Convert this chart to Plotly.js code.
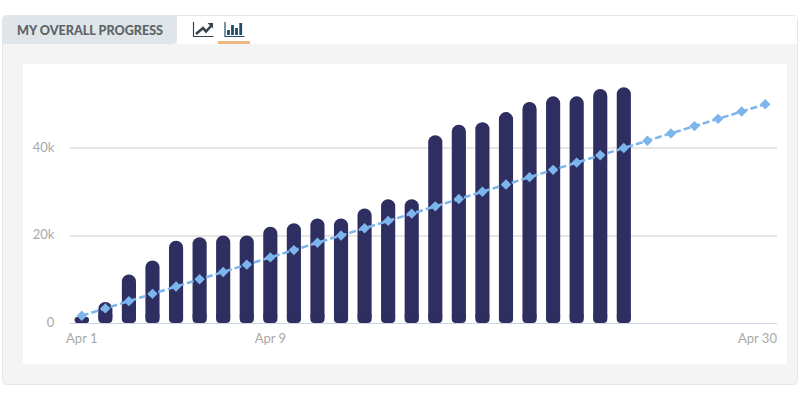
<!DOCTYPE html>
<html><head><meta charset="utf-8">
<script src="https://cdn.plot.ly/plotly-3.0.1.min.js"></script>
<style>
html,body{margin:0;padding:0;background:#fff;width:800px;height:400px;overflow:hidden}
#panel{position:absolute;left:2px;top:15px;width:796px;height:370px;box-sizing:border-box;background:#f4f4f4;border:1px solid #e4e6e8;border-radius:5px}
#white{position:absolute;left:23px;top:64px;width:764px;height:300px;background:#fff}
#tab{position:absolute;left:2px;top:15px;width:175px;height:29px;background:#dfe5e8;border-radius:5px 0 5px 0;font:900 12.6px Lato,sans-serif;color:#5d6367;line-height:31px;box-sizing:border-box;padding-left:15px}
#top{position:absolute;left:177px;top:16px;width:620px;height:28px;background:#fff}
#icons{position:absolute;left:190px;top:18px}
#chart{position:absolute;left:0;top:0;width:800px;height:400px}
</style></head><body>
<div id="panel"></div><div id="white"></div><div id="top"></div><div id="tab">MY OVERALL PROGRESS</div>
<svg id="icons" width="70" height="28" viewBox="0 0 70 28">
<path d="M3.5 4V18.5H23.5" fill="none" stroke="#39434b" stroke-width="1.2"/>
<path d="M6 16L13 10L16 13.5L21 8" fill="none" stroke="#39434b" stroke-width="2.6"/>
<path d="M17.5 5H23V10.5Z" fill="#39434b"/>
<path d="M35 4V18.5H54.5" fill="none" stroke="#1f4f70" stroke-width="1.2"/>
<path d="M38.5 12V17M42.5 7V17M46.5 10V17M50.7 5V17" fill="none" stroke="#234c69" stroke-width="2.8"/>
<rect x="28" y="23" width="32" height="3" fill="#ecb984"/>
</svg>
<div id="chart"></div>
<script>
var categories = ["Apr 1","Apr 2","Apr 3","Apr 4","Apr 5","Apr 6","Apr 7","Apr 8","Apr 9","Apr 10","Apr 11","Apr 12","Apr 13","Apr 14","Apr 15","Apr 16","Apr 17","Apr 18","Apr 19","Apr 20","Apr 21","Apr 22","Apr 23","Apr 24","Apr 25","Apr 26","Apr 27","Apr 28","Apr 29","Apr 30"];
var actual = [1400,4800,11100,14300,18800,19600,20000,20000,22000,22800,23900,23900,26200,28300,28300,42900,45300,45900,48200,50500,51800,51800,53500,53900];
var target = [1667,3333,5000,6667,8333,10000,11667,13333,15000,16667,18333,20000,21667,23333,25000,26667,28333,30000,31667,33333,35000,36667,38333,40000,41667,43333,45000,46667,48333,50000];
var yTickVals = [0,20000,40000];
var yTickText = ["0","20k","40k"];
var xTickVals = ["Apr 1","Apr 9"];
var lastLabel = "Apr 30";
var footHeight = 2500;
var tickFont = {family:"Lato, sans-serif",size:13,color:"#a9a9a9"};
var barCats = categories.slice(0,actual.length);
var zeroBase = actual.map(function(){return 0;});
var foot = actual.map(function(v){return Math.min(v,footHeight);});
Plotly.newPlot("chart",[
 {type:"bar",x:barCats,base:zeroBase,y:actual,width:0.6,marker:{color:"#2e2e61",cornerradius:7,line:{width:0}},hoverinfo:"skip"},
 {type:"bar",x:barCats,base:zeroBase,y:foot,width:0.6,marker:{color:"#2e2e61",cornerradius:4,line:{width:0}},hoverinfo:"skip"},
 {type:"scatter",mode:"lines+markers",x:categories,y:target,line:{color:"#7cb5ec",width:2.5,dash:"7px,3px"},marker:{symbol:"diamond",size:8,color:"#7cb5ec"},hoverinfo:"skip"}
],{
 width:800,height:400,showlegend:false,barmode:"overlay",
 paper_bgcolor:"rgba(0,0,0,0)",plot_bgcolor:"rgba(0,0,0,0)",
 margin:{l:70,r:23,t:64,b:77,pad:0},
 xaxis:{type:"category",categoryorder:"array",categoryarray:categories,range:[-0.5,29.5],tickmode:"array",tickvals:xTickVals,ticktext:xTickVals,tickfont:tickFont,ticks:"",ticklabelstandoff:3,showgrid:false,zeroline:false,showline:true,linecolor:"#ccd3e3",linewidth:1,fixedrange:true,automargin:false},
 yaxis:{range:[0,59200],tickmode:"array",tickvals:yTickVals,ticktext:yTickText,tickfont:tickFont,ticks:"outside",ticklen:12,tickcolor:"rgba(0,0,0,0)",ticklabelshift:-1,gridcolor:"#e6e6e6",gridwidth:2,zeroline:false,showline:false,fixedrange:true,automargin:false},
 annotations:[{text:lastLabel,x:lastLabel,xref:"x",y:0,yref:"paper",xanchor:"right",yanchor:"top",xshift:13.5,yshift:-5,showarrow:false,font:tickFont}]
},{displayModeBar:false,staticPlot:true});
</script></body></html>
